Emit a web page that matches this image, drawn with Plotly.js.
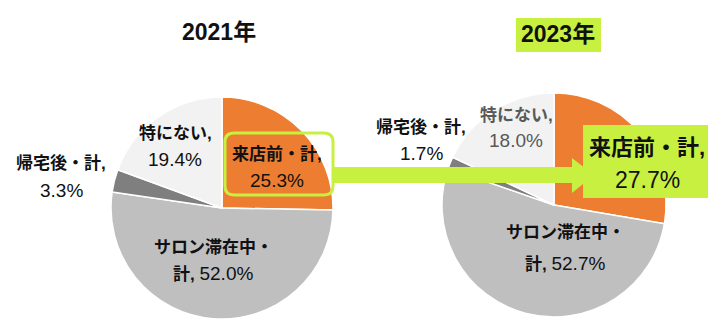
<!DOCTYPE html>
<html>
<head>
<meta charset="utf-8">
<script src="https://cdn.plot.ly/plotly-3.0.1.min.js"></script>
<style>html,body{margin:0;padding:0;background:#fff;}#chart{width:726px;height:334px;}</style>
</head>
<body>
<div id="chart"></div>
<script>
// ---- data ----
const categories = ['来店前・計', 'サロン滞在中・計', '帰宅後・計', '特にない'];
const values2021 = [25.3, 52.0, 3.3, 19.4];
const values2023 = [27.7, 52.7, 1.7, 18.0];
const years = ['2021年', '2023年'];
const sliceColors = ['#ed7d31', '#bfbfbf', '#7f7f7f', '#f2f2f2'];

// ---- helpers ----
const W = 726, H = 334;
const px = x => x / W;
const py = y => 1 - y / H;
const LIME = '#c8f040';
const FONT = 'Liberation Sans, Arial, Noto Sans CJK JP, sans-serif';

function labelLines(i, v, numSize) {
  const val = '<span style="font-size:' + numSize + 'px">' + v.toFixed(1) + '%</span>';
  if (i === 1) {
    return ['<b>' + categories[i].slice(0, 7) + '</b>', '<b>' + categories[i].slice(7) + ',</b> ' + val];
  }
  return ['<b>' + categories[i] + ',</b>', val];
}

function pieTrace(values, x0, x1, y0, y1) {
  return {
    type: 'pie', values: values, labels: categories, sort: false,
    direction: 'clockwise', rotation: 0,
    marker: {colors: sliceColors, line: {color: '#ffffff', width: 1.5}},
    textinfo: 'none', hoverinfo: 'none', showlegend: false,
    domain: {x: [px(x0), px(x1)], y: [py(y1), py(y0)]}
  };
}

const traces = [
  pieTrace(values2021, 111, 333, 97, 319),
  pieTrace(values2023, 442, 666, 93, 317)
];

// label placement (pixel centers of each line)
const pos2021 = [[277, 154, 180], [213, 247, 273], [61, 163, 190], [175, 133, 159]];
const pos2023 = [[647, 148, 180], [565, 232, 263], [421, 127, 153], [516, 115, 140]];

const annotations = [];
function addLabels(values, pos, big) {
  values.forEach((v, i) => {
    const isBig = big && i === 0;
    const lines = labelLines(i, v, isBig ? 23 : 19);
    const size = isBig ? 22 : 17;
    const color = (big && i === 3) ? '#595959' : '#111111';
    lines.forEach((t, k) => {
      annotations.push({
        xref: 'paper', yref: 'paper', x: px(pos[i][0]), y: py(pos[i][1 + k]),
        xanchor: 'center', yanchor: 'middle', showarrow: false,
        text: t, font: {family: FONT, size: size, color: color}
      });
    });
  });
}
addLabels(values2021, pos2021, false);
addLabels(values2023, pos2023, true);

annotations.push({xref: 'paper', yref: 'paper', x: px(219), y: py(32), xanchor: 'center', yanchor: 'middle',
  showarrow: false, text: '<b>' + years[0] + '</b>', font: {family: FONT, size: 23, color: '#111'}});
annotations.push({xref: 'paper', yref: 'paper', x: px(558), y: py(34), xanchor: 'center', yanchor: 'middle',
  showarrow: false, text: '<b>' + years[1] + '</b>', font: {family: FONT, size: 23, color: '#111'}});

function roundRect(x0, y0, x1, y1, r) {
  const X = v => px(v).toFixed(5), Y = v => py(v).toFixed(5);
  return 'M' + X(x0 + r) + ',' + Y(y0) + ' L' + X(x1 - r) + ',' + Y(y0) +
    ' Q' + X(x1) + ',' + Y(y0) + ' ' + X(x1) + ',' + Y(y0 + r) +
    ' L' + X(x1) + ',' + Y(y1 - r) +
    ' Q' + X(x1) + ',' + Y(y1) + ' ' + X(x1 - r) + ',' + Y(y1) +
    ' L' + X(x0 + r) + ',' + Y(y1) +
    ' Q' + X(x0) + ',' + Y(y1) + ' ' + X(x0) + ',' + Y(y1 - r) +
    ' L' + X(x0) + ',' + Y(y0 + r) +
    ' Q' + X(x0) + ',' + Y(y0) + ' ' + X(x0 + r) + ',' + Y(y0) + ' Z';
}
function poly(pts) {
  return pts.map((p, i) => (i ? 'L' : 'M') + px(p[0]).toFixed(5) + ',' + py(p[1]).toFixed(5)).join(' ') + ' Z';
}

const shapes = [
  // 2023 title background
  {type: 'rect', xref: 'paper', yref: 'paper', x0: px(516), x1: px(601), y0: py(52), y1: py(18),
    fillcolor: LIME, line: {width: 0}, layer: 'below'},
  // arrow
  {type: 'path', xref: 'paper', yref: 'paper', layer: 'above', fillcolor: LIME, line: {width: 0},
    path: poly([[333, 167], [572, 167], [572, 158], [594, 175], [572, 193], [572, 183], [333, 183]])},
  // left highlight outline
  {type: 'path', xref: 'paper', yref: 'paper', layer: 'above', line: {color: LIME, width: 3},
    path: roundRect(225, 133, 333, 195, 9)},
  // right highlight box
  {type: 'rect', xref: 'paper', yref: 'paper', layer: 'above', x0: px(583), x1: px(708), y0: py(198), y1: py(125),
    fillcolor: LIME, line: {width: 0}}
];

const layout = {
  width: W, height: H, margin: {l: 0, r: 0, t: 0, b: 0},
  paper_bgcolor: '#ffffff', plot_bgcolor: '#ffffff',
  font: {family: FONT},
  annotations: annotations, shapes: shapes, showlegend: false
};
Plotly.newPlot('chart', traces, layout, {staticPlot: true, displayModeBar: false});
</script>
</body>
</html>
